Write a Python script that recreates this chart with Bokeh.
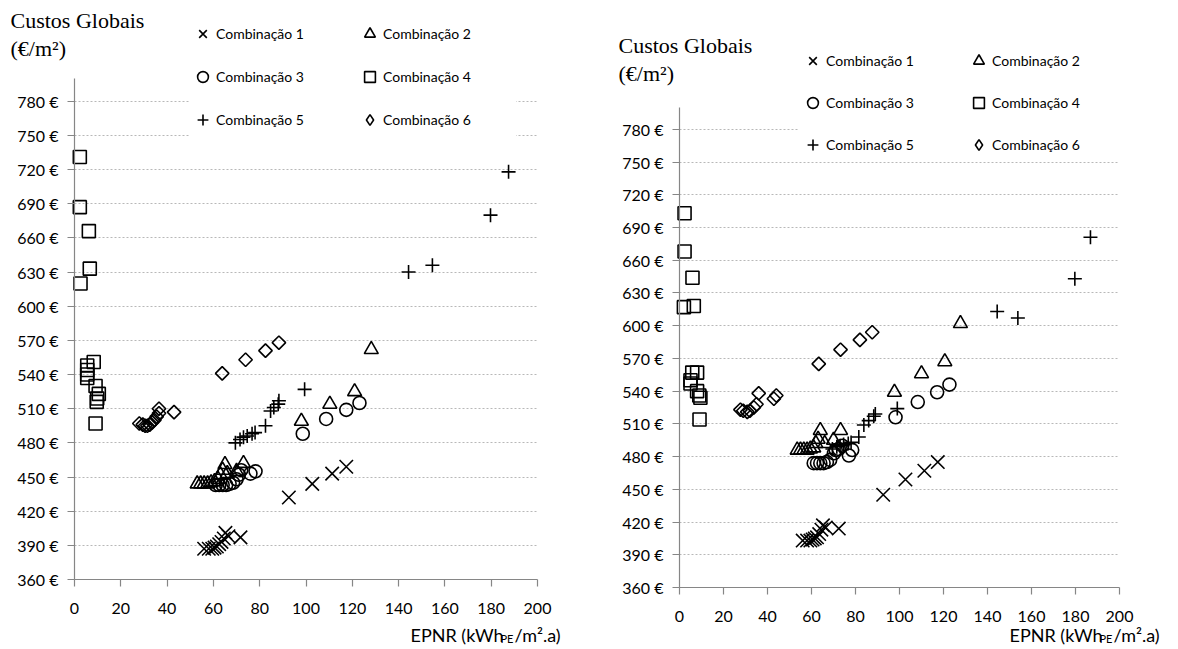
import numpy as np
from bokeh.plotting import figure
from bokeh.layouts import row
from bokeh.models import Range1d, FixedTicker, PrintfTickFormatter, Label, Legend, LegendItem
from bokeh.embed import file_html
from bokeh.resources import INLINE

# ---------------- data ----------------
X_TICKS = [0, 20, 40, 60, 80, 100, 120, 140, 160, 180, 200]
Y_TICKS = [360, 390, 420, 450, 480, 510, 540, 570, 600, 630, 660, 690, 720, 750, 780]
X_MIN, X_MAX = 0, 200
Y_MIN, Y_MAX = 360, 800
LABELS = ["Combinação 1", "Combinação 2", "Combinação 3",
          "Combinação 4", "Combinação 5", "Combinação 6"]
Y_TITLE_1 = "Custos Globais"
Y_TITLE_2 = "(€/m²)"

# Left chart
a_c1_x = [56, 58, 59.5, 60.5, 61.5, 62.5, 63.5, 64.5, 65.2, 66.5, 71.7, 92.6, 102.7, 111.3, 117.4]
a_c1_y = [387, 387, 387, 388, 389, 391, 393, 396, 401, 398, 397, 432, 444, 453, 459]
a_c2_x = [53, 54.5, 56, 57.5, 59, 60.5, 62, 63, 64, 65, 66, 70, 73, 98, 110.3, 121, 128.2]
a_c2_y = [444, 444, 444, 444, 445, 446, 448, 452, 456, 461, 453, 455, 462, 499, 514, 525, 562]
a_c3_x = [61, 62.5, 64, 65.5, 67, 68.5, 70, 71, 72, 76, 78.2, 98.6, 108.7, 117.4, 123.1]
a_c3_y = [443, 443, 443, 443, 444, 445, 448, 452, 456, 453, 455, 488, 501, 509, 515]
a_c4_x = [2.3, 2.3, 6.2, 6.6, 2.6, 8.3, 5.5, 5.5, 5.5, 5.5, 9.1, 10.5, 9.8, 9.6, 9.1]
a_c4_y = [731, 687, 666, 633, 620, 551, 548, 544, 540, 537, 530, 523, 519, 516, 497]
a_c5_x = [69.5, 71.5, 73, 74.6, 76.7, 78, 82.5, 84.7, 86.1, 88.3, 88, 99.4, 144.3, 154.6, 179.7, 187.5]
a_c5_y = [480, 483, 485, 486, 488, 489, 495, 508, 511, 517, 514, 527, 630, 636, 680, 718]
a_c6_x = [28, 29.5, 30.5, 31.5, 32.5, 33.5, 34.5, 35.5, 36.5, 36.5, 43, 63.8, 73.9, 82.5, 88.3]
a_c6_y = [497, 496, 495, 495, 496, 498, 500, 503, 506, 510, 507, 541, 553, 561, 568]

# Right chart
b_c1_x = [56, 58, 59.5, 60.5, 61.5, 62.5, 63.5, 64.5, 65.2, 66.5, 72.4, 92.6, 102.7, 111.3, 117.4]
b_c1_y = [403, 403, 403, 404, 405, 406, 409, 413, 417, 415, 414, 445, 459, 467, 475]
b_c2_x = [53.5, 55, 56.5, 58, 59.5, 61, 62, 63, 64, 66, 70, 73.2, 97.7, 110, 120.6, 127.7]
b_c2_y = [486, 486, 486, 486, 487, 488, 492, 496, 504, 492, 495, 504, 539, 556, 567, 602]
b_c3_x = [61, 62.5, 64, 65.5, 67, 68.5, 70.2, 71, 72.4, 74, 77, 78.5, 98.2, 108.3, 117.1, 122.7]
b_c3_y = [474, 474, 474, 474, 475, 477, 483, 486, 487, 490, 481, 486, 516, 530, 539, 546]
b_c4_x = [2.3, 2.3, 5.9, 2, 6.5, 5.8, 8, 5, 5, 8, 9, 9.5, 9.1]
b_c4_y = [703, 668, 644, 617, 618, 557, 557, 550, 547, 540, 536, 534, 514]
b_c5_x = [69.5, 71.5, 73, 74.6, 76.7, 78, 81.5, 83.8, 86, 88.3, 89, 99, 144.4, 153.8, 179.7, 186.8]
b_c5_y = [487, 489, 490, 491, 492, 493, 498, 509, 513, 517, 519, 524, 613, 607, 643, 681]
b_c6_x = [27.7, 29, 30.8, 32, 33.8, 35, 36, 42.9, 44, 63.3, 73.2, 82, 87.6]
b_c6_y = [523, 522, 521, 522, 525, 528, 538, 533, 536, 565, 578, 587, 594]

LEFT_SERIES = [(a_c1_x, a_c1_y), (a_c2_x, a_c2_y), (a_c3_x, a_c3_y),
               (a_c4_x, a_c4_y), (a_c5_x, a_c5_y), (a_c6_x, a_c6_y)]
RIGHT_SERIES = [(b_c1_x, b_c1_y), (b_c2_x, b_c2_y), (b_c3_x, b_c3_y),
                (b_c4_x, b_c4_y), (b_c5_x, b_c5_y), (b_c6_x, b_c6_y)]

# ---------------- styles ----------------
MARKERS = [
    dict(marker="x", size=19, angle=0.0, legend="x"),
    dict(marker="triangle", size=14, angle=0.0, legend="triangle"),
    dict(marker="circle", size=13, angle=0.0, legend="circle"),
    dict(marker="square", size=13, angle=0.0, legend="square"),
    dict(marker="cross", size=14, angle=0.0, legend="cross"),
    dict(marker="square", size=9.5, angle=np.pi / 4, legend="diamond"),
]
SANS = "Lato"
SERIF = "Liberation Serif"
AXIS_COL = "#868686"
GRID_COL = "#b8b8b8"


def make_chart(series, width, height, x0_px, x200_px, y800_px, y360_px,
               legend_loc, legend_spacing, title_dx, title_dy1, title_dy2,
               xlab_dx, xlab_dy):
    kx = (x200_px - x0_px) / (X_MAX - X_MIN)
    ky = (y360_px - y800_px) / (Y_MAX - Y_MIN)
    xr = Range1d(X_MIN - x0_px / kx, X_MAX + (width - x200_px) / kx)
    yr = Range1d(Y_MIN - (height - y360_px) / ky, Y_MAX + y800_px / ky)
    p = figure(width=width, height=height, output_backend="svg", toolbar_location=None,
               x_range=xr, y_range=yr, min_border=0,
               min_border_left=0, min_border_right=0, min_border_top=0, min_border_bottom=0)
    p.title.visible = False
    p.outline_line_color = None
    p.background_fill_color = "white"
    p.border_fill_color = "white"
    p.xgrid.visible = False

    grid = p.ygrid[0]
    grid.ticker = FixedTicker(ticks=Y_TICKS)
    if "cross_bounds" in grid.properties():
        grid.grid_line_color = GRID_COL
        grid.grid_line_dash = "2 2"
        grid.grid_line_width = 1
        grid.cross_bounds = (X_MIN, X_MAX)
    else:
        grid.visible = False
        p.segment(x0=[X_MIN] * len(Y_TICKS), x1=[X_MAX] * len(Y_TICKS),
                  y0=Y_TICKS, y1=Y_TICKS, line_color=GRID_COL, line_dash="2 2",
                  line_width=1, level="underlay")

    xa, ya = p.xaxis[0], p.yaxis[0]
    for ax in (xa, ya):
        ax.axis_line_color = AXIS_COL
        ax.axis_line_width = 1.2
        ax.major_tick_line_color = AXIS_COL
        ax.major_tick_line_width = 1.2
        ax.major_tick_in = 0
        ax.major_tick_out = 7
        ax.minor_tick_line_color = None
        ax.major_label_text_font = SANS
        ax.major_label_text_font_size = "16px"
        ax.major_label_text_color = "#000000"
    xa.fixed_location = Y_MIN
    xa.bounds = (X_MIN, X_MAX)
    xa.ticker = FixedTicker(ticks=X_TICKS)
    xa.major_label_standoff = 16
    ya.fixed_location = X_MIN
    ya.bounds = (Y_MIN, Y_MAX)
    ya.ticker = FixedTicker(ticks=Y_TICKS)
    ya.formatter = PrintfTickFormatter(format="%d €")
    ya.major_label_standoff = 9

    items = []
    for (xs, ys), st, lab in zip(series, MARKERS, LABELS):
        r = p.scatter(xs, ys, marker=st["marker"], size=st["size"], angle=st["angle"],
                      fill_color=None, line_color="black", line_width=1.6)
        if st["legend"] != st["marker"]:
            # legend-only glyph (upright diamond) for the rotated-square series
            r_leg = p.scatter(x=[np.nan], y=[np.nan], marker=st["legend"], fill_color=None,
                              line_color="black", line_width=1.6)
            items.append(LegendItem(label=lab, renderers=[r_leg]))
        else:
            items.append(LegendItem(label=lab, renderers=[r]))

    legend = Legend(items=items, location=legend_loc, orientation="horizontal", ncols=2,
                    glyph_width=27, glyph_height=27, label_standoff=0,
                    label_width=133, label_height=36, spacing=legend_spacing, padding=11,
                    label_text_font=SANS, label_text_font_size="14px",
                    label_text_color="black",
                    border_line_color=None, background_fill_color="white",
                    background_fill_alpha=1.0)
    p.add_layout(legend, "center")

    # y-axis title (two lines, above the axis)
    for txt, dy in ((Y_TITLE_1, title_dy1), (Y_TITLE_2, title_dy2)):
        p.add_layout(Label(x=X_MIN, y=Y_MAX, x_offset=title_dx, y_offset=dy, text=txt,
                           text_font=SERIF, text_font_size="22px", text_baseline="middle",
                           text_color="black"))

    # x-axis title with subscript
    w1, w2 = 90, 14
    p.add_layout(Label(x=X_MAX, y=Y_MIN, x_offset=xlab_dx, y_offset=xlab_dy, text="EPNR (kWh",
                       text_font=SANS, text_font_size="18px", text_baseline="middle",
                       text_color="black"))
    p.add_layout(Label(x=X_MAX, y=Y_MIN, x_offset=xlab_dx + w1, y_offset=xlab_dy - 4, text="PE",
                       text_font=SANS, text_font_size="11px", text_baseline="middle",
                       text_color="black"))
    p.add_layout(Label(x=X_MAX, y=Y_MIN, x_offset=xlab_dx + w1 + w2, y_offset=xlab_dy,
                       text="/m².a)", text_font=SANS, text_font_size="18px",
                       text_baseline="middle", text_color="black"))
    return p


H = 647
left = make_chart(LEFT_SERIES, 600, H, x0_px=74, x200_px=537, y800_px=78, y360_px=579,
                  legend_loc=(189, H - 137), legend_spacing=7,
                  title_dx=-64, title_dy1=58, title_dy2=30,
                  xlab_dx=-127, xlab_dy=-55)
right = make_chart(RIGHT_SERIES, 576, H, x0_px=79, x200_px=519, y800_px=107, y360_px=587,
                   legend_loc=(199, H - 162), legend_spacing=6,
                   title_dx=-61, title_dy1=62, title_dy2=34,
                   xlab_dx=-110, xlab_dy=-47)

layout = row(left, right)
open("out.html", "w").write(file_html(layout, INLINE))
